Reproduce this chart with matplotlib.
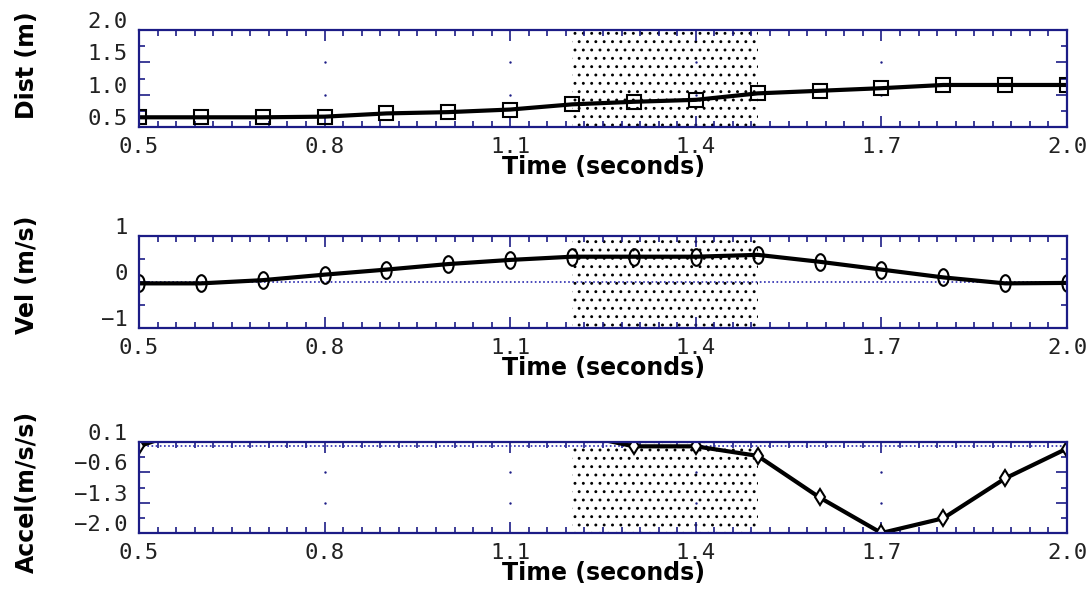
import numpy as np
import matplotlib
matplotlib.use("Agg")
import matplotlib.pyplot as plt
from matplotlib.path import Path
from matplotlib.transforms import ScaledTranslation

# Data (one point every 0.1 s)
time = [0.5, 0.6, 0.7, 0.8, 0.9, 1.0, 1.1, 1.2, 1.3, 1.4, 1.5, 1.6, 1.7, 1.8, 1.9, 2.0]
dist = [0.65, 0.65, 0.65, 0.66, 0.71, 0.73, 0.77, 0.85, 0.89, 0.92, 1.02, 1.06, 1.10, 1.15, 1.15, 1.15]
vel = [-0.03, -0.03, 0.04, 0.16, 0.27, 0.39, 0.48, 0.55, 0.55, 0.55, 0.59, 0.44, 0.27, 0.10, -0.03, -0.02]
accel = [0.0, 0.5, 0.9, 1.1, 1.1, 0.9, 0.7, 0.3, 0.0, 0.0, -0.22, -1.18, -2.3, -1.66, -0.74, -0.05]

shade_start, shade_end = 1.2, 1.5

x_ticks = [0.5, 0.8, 1.1, 1.4, 1.7, 2.0]
x_labels = ['0.5', '0.8', '1.1', '1.4', '1.7', '2.0']

dist_ticks = [0.5, 1.0, 1.5, 2.0]
dist_labels = ['0.5', '1.0', '1.5', '2.0']
vel_ticks = [-1, 0, 1]
vel_labels = ['\u22121', '0', '1']
accel_ticks = [-2.0, -1.3, -0.6, 0.1]
accel_labels = ['\u22122.0', '\u22121.3', '\u22120.6', '0.1']

navy = '#1c1c86'
plt.rcParams['hatch.linewidth'] = 0.9
plt.rcParams['hatch.color'] = 'black'

fig = plt.figure(figsize=(10.9, 5.95), dpi=100)

left, width = 139 / 1090, (1067 - 139) / 1090
boxes = [(30, 127), (236, 328), (442, 533)]

# ellipse marker for the velocity trace
circ = Path.unit_circle()
ellipse = Path(circ.vertices * np.array([0.62, 1.0]), circ.codes)

panels = [
    (dist, 's', 10, (0.5, 2.0), dist_ticks, dist_labels, 0.25, 'Dist (m)', 0.64, False),
    (vel, ellipse, 12, (-1, 1), vel_ticks, vel_labels, 0.5, 'Vel (m/s)', 0.58, True),
    (accel, 'd', 8, (-2.0, 0.1), accel_ticks, accel_labels, 0.35, 'Accel(m/s/s)', 0.45, True),
]

for i, ((top, bot), (ys, mk, ms, ylim, yt, yl, ystep, ylab, ylab_y, zero)) in enumerate(zip(boxes, panels)):
    ax = fig.add_axes([left, 1 - bot / 595, width, (bot - top) / 595])
    ax.set_xlim(0.5, 2.0)
    ax.set_ylim(*ylim)

    # stippled time window
    ax.axvspan(shade_start, shade_end, facecolor='none', edgecolor='black',
               hatch='..', linewidth=0, zorder=1)

    if zero:
        ax.axhline(0, color='#2a2ab0', lw=1.2, ls=(0, (1, 1.5)), zorder=2)

    # dots at the major grid intersections
    gx, gy = np.meshgrid(x_ticks[1:-1], [v for v in yt if ylim[0] < v < ylim[1] and v != 0])
    ax.scatter(gx.ravel(), gy.ravel(), s=3, color=navy, zorder=2, linewidths=0)

    # the old plotter pins values below the axis onto the bottom edge
    yplot = np.maximum(ys, ylim[0]) if i == 2 else ys
    ax.plot(time, yplot, color='black', lw=3, marker=mk, markersize=ms,
            mfc='white' if mk == 'd' else 'none', mec='black', mew=1.5, zorder=3)

    ax.set_xticks(x_ticks)
    ax.set_xticklabels(x_labels)
    ax.set_xticks(np.arange(0.5, 2.0001, 0.03), minor=True)
    ax.set_yticks(yt)
    ax.set_yticklabels(yl)
    ax.set_yticks(np.arange(ylim[0], ylim[1] + 1e-6, ystep), minor=True)

    ax.tick_params(which='both', direction='in', top=True, right=True, color=navy,
                   width=1.2, labelsize=16, labelfontfamily='DejaVu Sans Mono')
    ax.tick_params(which='major', length=8)
    ax.tick_params(which='minor', length=4.5)
    ax.tick_params(axis='x', pad=7)
    ax.tick_params(axis='y', pad=8)
    for sp in ax.spines.values():
        sp.set_color(navy)
        sp.set_linewidth(1.6)
        sp.set_zorder(4)

    ax.set_xlabel('Time (seconds)', fontsize=17, fontweight='bold', labelpad=-1)
    ax.set_ylabel(ylab, fontsize=17, fontweight='bold')
    ax.yaxis.set_label_coords(-0.108, ylab_y)

    # old-style y labels sit above their ticks
    shift = ScaledTranslation(0, 0.1, fig.dpi_scale_trans)
    for tick in ax.yaxis.get_major_ticks():
        tick.label1.set_transform(tick.label1.get_transform() + shift)
        tick.label1.set_color('#222222')
    for tick in ax.xaxis.get_major_ticks():
        tick.label1.set_color('#222222')

fig.savefig('out.png', dpi=100)
